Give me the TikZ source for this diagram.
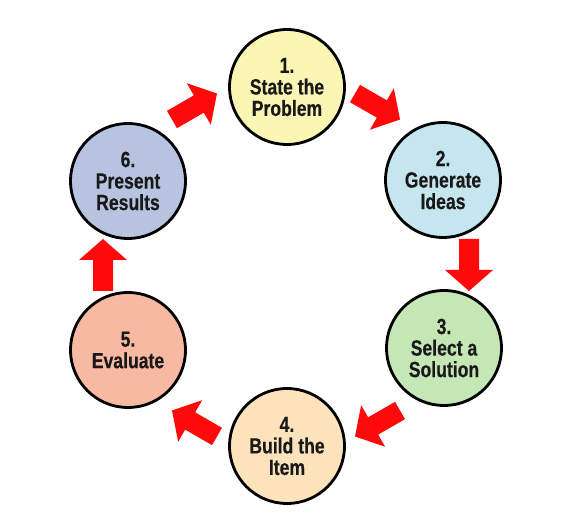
\documentclass[tikz,border=0pt]{standalone}
\usepackage{fontspec}
\newfontfamily\labelfont[FakeStretch=0.8, BoldFeatures={FakeBold=0.35}]{Liberation Sans}
\usetikzlibrary{calc}
\definecolor{cyellow}{HTML}{FBF6B4}
\definecolor{cblue}{HTML}{C5E6EF}
\definecolor{cgreen}{HTML}{C5E6B5}
\definecolor{cpeach}{HTML}{FCE3BC}
\definecolor{csalmon}{HTML}{F8B9A3}
\definecolor{clavender}{HTML}{B8C3DF}
\definecolor{arrowred}{HTML}{FF0A0A}
\tikzset{
  stepcircle/.style={circle, draw=black, line width=2.8pt, minimum size=115pt, inner sep=0pt,
    align=center, text=black!90, font=\labelfont\bfseries\fontsize{22}{21.5}\selectfont},
  blockarrow/.style={fill=arrowred, draw=none}
}
\newcommand{\ringarrow}[1]{%
  \fill[blockarrow, shift={($(O)+(#1:183)$)}, rotate=#1-90]
    (-26,-10) -- (5,-10) -- (5,-24) -- (26,0) -- (5,24) -- (5,10) -- (-26,10) -- cycle;}
\begin{document}
\begin{tikzpicture}[x=1pt,y=1pt]
\useasboundingbox (0,0) rectangle (563,-526);
\coordinate (O) at (286,-265);
\node[stepcircle, fill=cyellow]   (c1) at (287,-87)  {1.\\State the\\Problem};
\node[stepcircle, fill=cblue]     (c2) at (443,-180) {2.\\Generate\\Ideas};
\node[stepcircle, fill=cgreen]    (c3) at (444,-348) {3.\\Select a\\Solution};
\node[stepcircle, fill=cpeach]    (c4) at (287,-446) {4.\\Build the\\Item};
\node[stepcircle, fill=csalmon]   (c5) at (128,-350) {5.\\Evaluate};
\node[stepcircle, fill=clavender] (c6) at (128,-181) {6.\\Present\\Results};
\ringarrow{120}
\ringarrow{60}
\ringarrow{0}
\ringarrow{-60}
\ringarrow{-120}
\ringarrow{180}
\end{tikzpicture}
\end{document}
